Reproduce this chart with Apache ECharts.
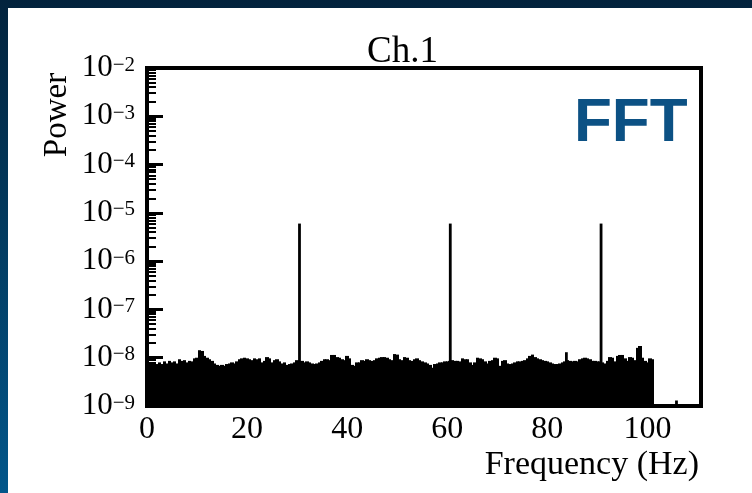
<!DOCTYPE html>
<html>
<head>
<meta charset="utf-8">
<script src="https://cdn.jsdelivr.net/npm/echarts@6/dist/echarts.min.js"></script>
<style>
  html, body { margin: 0; padding: 0; width: 752px; height: 493px; overflow: hidden; }
  body { position: relative; background: linear-gradient(to bottom, #03233d 0%, #033a5e 45%, #02568a 100%); }
  #panel { position: absolute; left: 8px; top: 8px; width: 744px; height: 485px; background: #fff; }
  #chart { position: absolute; left: 0; top: 0; width: 752px; height: 493px; }
</style>
</head>
<body>
<div id="panel"></div>
<div id="chart"></div>
<script>
// ---- spectrum of channel 1 ----
// Noise floor sampled every FREQ_STEP Hz from 0 to 101 Hz, values in units of NOISE_UNIT.
const FREQ_STEP = 0.5;
const NOISE_UNIT = 1e-9;
const noiseFloor = [
  8.0, 8.0, 7.6, 8.0, 7.4, 8.0, 7.4, 8.4, 7.6, 8.6,
  8.0, 8.4, 7.6, 9.3, 8.6, 8.9, 8.0, 8.6, 8.4, 9.7,
  10.0, 14.3, 13.8, 10.9, 10.0, 9.3, 8.6, 7.6, 7.1, 6.8,
  7.1, 6.8, 7.4, 7.6, 8.0, 7.6, 8.4, 9.3, 9.7, 10.0,
  9.7, 9.3, 8.9, 9.7, 9.3, 9.7, 8.0, 8.6, 10.3, 9.7,
  8.0, 8.9, 9.3, 8.4, 7.6, 8.0, 7.1, 7.4, 7.6, 8.0,
  8.9, 8.3, 8.6, 8.0, 8.4, 8.0, 7.6, 7.4, 7.6, 8.0,
  8.6, 9.3, 9.3, 8.9, 11.4, 11.4, 10.3, 10.0, 9.3, 8.9,
  10.9, 9.7, 7.1, 6.8, 8.0, 8.0, 8.9, 8.6, 9.3, 8.9,
  8.6, 8.9, 9.7, 10.0, 10.3, 10.3, 10.0, 9.3, 8.9, 11.9,
  11.6, 9.3, 8.9, 10.3, 10.0, 8.9, 8.6, 9.3, 9.7, 8.9,
  8.4, 8.0, 7.6, 7.1, 6.2, 7.4, 7.6, 8.0, 8.0, 8.4,
  8.4, 8.6, 8.9, 8.6, 8.6, 8.4, 9.7, 9.3, 9.3, 8.0,
  7.1, 8.0, 10.0, 9.7, 9.3, 8.4, 7.6, 8.6, 8.9, 10.0,
  9.7, 6.8, 8.6, 8.9, 7.6, 7.4, 7.6, 8.0, 8.4, 8.4,
  8.6, 8.9, 9.7, 10.9, 11.6, 10.3, 9.7, 9.3, 8.9, 8.6,
  8.4, 8.0, 7.6, 7.4, 7.4, 7.6, 8.0, 8.4, 8.9, 8.6,
  8.4, 8.6, 8.4, 9.3, 9.7, 10.0, 9.7, 9.3, 8.6, 8.6,
  8.4, 8.4, 8.0, 7.6, 8.6, 10.3, 10.0, 8.4, 10.9, 11.4,
  11.4, 9.7, 8.6, 10.3, 10.0, 8.9, 16.0, 17.5, 10.0, 8.6,
  8.0, 9.7, 9.3
];
// Narrow lines standing above the noise floor (Hz, power);
// the one at 105.8 Hz is the only bin above the axis floor past the cut-off
const peakFreq  = [30.47, 60.6, 83.8, 90.73, 105.8];
const peakPower = [6.0e-6, 6.0e-6, 1.3e-8, 6.0e-6, 1.3e-9];

// ---- axes ----
const X_MAX = 110.7;
const xTickStep = 20;
const Y_MIN = 1e-9;
const Y_MAX = 1e-2;
const decadeExponents = [-9, -8, -7, -6, -5, -4, -3];
const minorMultipliers = [2, 3, 4, 5, 6, 7, 8, 9];

const minorTickValues = [];
decadeExponents.forEach(e => minorMultipliers.forEach(m => minorTickValues.push(m * Math.pow(10, e))));

const noiseData = noiseFloor.map((v, i) => [i * FREQ_STEP, v * NOISE_UNIT]);
const peakData = peakFreq.map((f, i) => [f, peakPower[i]]);

const SERIF = 'Liberation Serif';
const PEAK_WIDTH_PX = 2.8;

function powerLabel(value) {
  const exp = Math.round(Math.log10(value));
  const sign = exp < 0 ? '\u2212' : '';
  return '{b|10}{s|' + sign + Math.abs(exp) + '}';
}

// one filled block per frequency bin, from the axis floor up to its power;
// edges are snapped outward to whole pixels so neighbouring bins join without seams
function renderNoiseBin(params, api) {
  const f = api.value(0);
  const top = api.coord([f - FREQ_STEP / 2, api.value(1)]);
  const bottom = api.coord([f + FREQ_STEP / 2, Y_MIN]);
  const x0 = Math.floor(top[0]);
  const x1 = Math.ceil(bottom[0]);
  return {
    type: 'rect',
    shape: { x: x0, y: top[1], width: x1 - x0, height: bottom[1] - top[1] },
    style: { fill: '#000' }
  };
}

// a thin vertical line for each narrow spectral line
function renderPeak(params, api) {
  const top = api.coord([api.value(0), api.value(1)]);
  const bottom = api.coord([api.value(0), Y_MIN]);
  return {
    type: 'rect',
    shape: { x: top[0] - PEAK_WIDTH_PX / 2, y: top[1], width: PEAK_WIDTH_PX, height: bottom[1] - top[1] },
    style: { fill: '#000' }
  };
}

const chart = echarts.init(document.getElementById('chart'), null, { renderer: 'canvas' });

chart.setOption({
  animation: false,
  title: {
    text: 'Ch.1',
    left: 367,
    top: 34,
    padding: 0,
    textStyle: { fontFamily: SERIF, fontSize: 37, fontWeight: 'normal', color: '#000' }
  },
  grid: {
    left: 147, top: 68, width: 554, height: 338,
    show: true, borderColor: '#000', borderWidth: 4, backgroundColor: 'transparent',
    containLabel: false, outerBoundsMode: 'none'
  },
  xAxis: {
    type: 'value', min: 0, max: X_MAX, interval: xTickStep,
    name: 'Frequency (Hz)', nameLocation: 'end', nameGap: -2, nameMoveOverlap: false,
    nameTextStyle: {
      fontFamily: SERIF, fontSize: 34, color: '#000',
      align: 'right', verticalAlign: 'top', padding: [42, 0, 0, 0]
    },
    axisLine: { show: true, onZero: false, lineStyle: { color: '#000', width: 4 } },
    axisTick: { show: false },
    splitLine: { show: false },
    axisLabel: {
      fontFamily: SERIF, fontSize: 32, color: '#000', margin: 8,
      showMaxLabel: false,
      formatter: v => (v % xTickStep === 0 ? String(v) : '')
    }
  },
  yAxis: [
    {
      type: 'log', logBase: 10, min: Y_MIN, max: Y_MAX, interval: 1, position: 'left',
      name: 'Power', nameLocation: 'middle', nameRotate: 90, nameGap: 73, nameMoveOverlap: false,
      nameTextStyle: { fontFamily: SERIF, fontSize: 33, color: '#000', padding: [0, 0, 0, 244] },
      axisLine: { show: true, lineStyle: { color: '#000', width: 4 } },
      axisTick: { show: true, inside: true, length: 16, lineStyle: { color: '#000', width: 3 } },
      minorTick: { show: false },
      splitLine: { show: false },
      axisLabel: {
        margin: 12,
        formatter: powerLabel,
        rich: {
          b: { fontFamily: SERIF, fontSize: 31, lineHeight: 31, color: '#000', verticalAlign: 'bottom', padding: [13, 0, 0, 0] },
          s: { fontFamily: SERIF, fontSize: 21, lineHeight: 21, color: '#000', verticalAlign: 'top', padding: [2, 0, 0, 0] }
        }
      }
    },
    {
      type: 'log', logBase: 10, min: Y_MIN, max: Y_MAX, interval: 1, position: 'left', offset: 0,
      axisLine: { show: false },
      axisTick: { show: true, inside: true, length: 9, customValues: minorTickValues, lineStyle: { color: '#000', width: 2 } },
      axisLabel: { show: false },
      splitLine: { show: false }
    }
  ],
  graphic: [
    {
      type: 'text', x: 574, y: 124, silent: true,
      style: {
        text: 'FFT', fontFamily: 'Liberation Sans', fontWeight: 'bold', fontSize: 62,
        fill: '#0c5184', align: 'left', verticalAlign: 'middle'
      }
    }
  ],
  series: [
    {
      name: 'noise', type: 'custom', xAxisIndex: 0, yAxisIndex: 0,
      data: noiseData, encode: { x: 0, y: 1 }, renderItem: renderNoiseBin,
      clip: true, silent: true
    },
    {
      name: 'lines', type: 'custom', xAxisIndex: 0, yAxisIndex: 0,
      data: peakData, encode: { x: 0, y: 1 }, renderItem: renderPeak,
      clip: true, silent: true
    }
  ]
});
</script>
</body>
</html>
